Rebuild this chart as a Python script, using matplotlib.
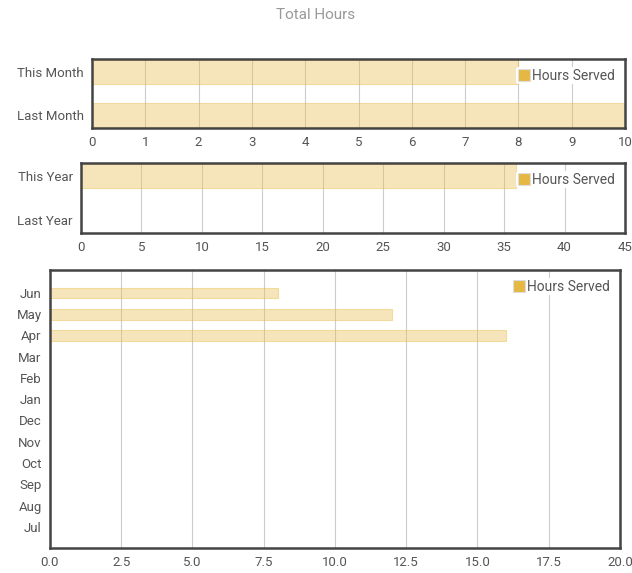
import matplotlib.pyplot as plt
from matplotlib.patches import Patch

# ------------------------
# Data
# ------------------------

month_labels = ["Last Month", "This Month"]
month_hours = [10, 8]

year_labels = ["Last Year", "This Year"]
year_hours = [0, 36]

monthly_labels = ["Jul", "Aug", "Sep", "Oct", "Nov", "Dec",
                  "Jan", "Feb", "Mar", "Apr", "May", "Jun"]
monthly_hours = [0, 0, 0, 0, 0, 0, 0, 0, 0, 16, 12, 8]

# ------------------------
# Style
# ------------------------

plt.rcParams['font.family'] = ['Roboto', 'DejaVu Sans']
bar_face = (0.91, 0.74, 0.29, 0.38)
bar_edge = (0.91, 0.74, 0.29, 0.45)
swatch = "#E5B844"
text_col = "#555555"


def style_axes(ax, xmax, step, fmt):
    ax.set_xlim(0, xmax)
    ticks = [i * step for i in range(int(round(xmax / step)) + 1)]
    ax.set_xticks(ticks)
    ax.set_xticklabels([fmt.format(t) for t in ticks])
    ax.grid(axis="x", color="#cccccc", linewidth=0.8)
    ax.set_axisbelow(True)
    ax.tick_params(length=0, labelsize=9.5, colors=text_col, pad=6)
    for s in ax.spines.values():
        s.set_color("#444444")
        s.set_linewidth(1.8)
    handle = Patch(facecolor=swatch, edgecolor="#dddddd", linewidth=0.8)
    leg = ax.legend([handle], ["Hours Served"], loc="upper right",
                    frameon=True, fontsize=10, handlelength=0.9,
                    handleheight=0.9, handletextpad=0.15, borderpad=0.1,
                    borderaxespad=0.6)
    leg.get_frame().set_facecolor("white")
    leg.get_frame().set_edgecolor("none")
    leg.get_frame().set_alpha(1)
    for t in leg.get_texts():
        t.set_color(text_col)


fig = plt.figure(figsize=(6.32, 5.73), dpi=100)
fig.text(0.5, 0.973, "Total Hours", ha="center", va="center",
         fontsize=11, color="#999999")

# panel 1 - months
ax1 = fig.add_axes([0.1456, 0.7766, 0.8434, 0.1204])
ax1.barh(range(len(month_labels)), month_hours, height=0.55,
         color=bar_face, edgecolor=bar_edge, linewidth=0.8)
ax1.set_yticks(range(len(month_labels)))
ax1.set_yticklabels(month_labels)
ax1.set_ylim(-0.3, 1.3)
style_axes(ax1, 10, 1, "{:.0f}")

# panel 2 - years
ax2 = fig.add_axes([0.1282, 0.5934, 0.8608, 0.1222])
ax2.barh(range(len(year_labels)), year_hours, height=0.55,
         color=bar_face, edgecolor=bar_edge, linewidth=0.8)
ax2.set_yticks(range(len(year_labels)))
ax2.set_yticklabels(year_labels)
ax2.set_ylim(-0.3, 1.3)
style_axes(ax2, 45, 5, "{:.0f}")

# panel 3 - by month
ax3 = fig.add_axes([0.0791, 0.0436, 0.9019, 0.4852])
ax3.barh(range(len(monthly_labels)), monthly_hours, height=0.5,
         color=bar_face, edgecolor=bar_edge, linewidth=0.8)
ax3.set_yticks(range(len(monthly_labels)))
ax3.set_yticklabels(monthly_labels)
ax3.set_ylim(-1.0, 12.08)
style_axes(ax3, 20, 2.5, "{:.1f}")

fig.savefig("out.png", dpi=100)
